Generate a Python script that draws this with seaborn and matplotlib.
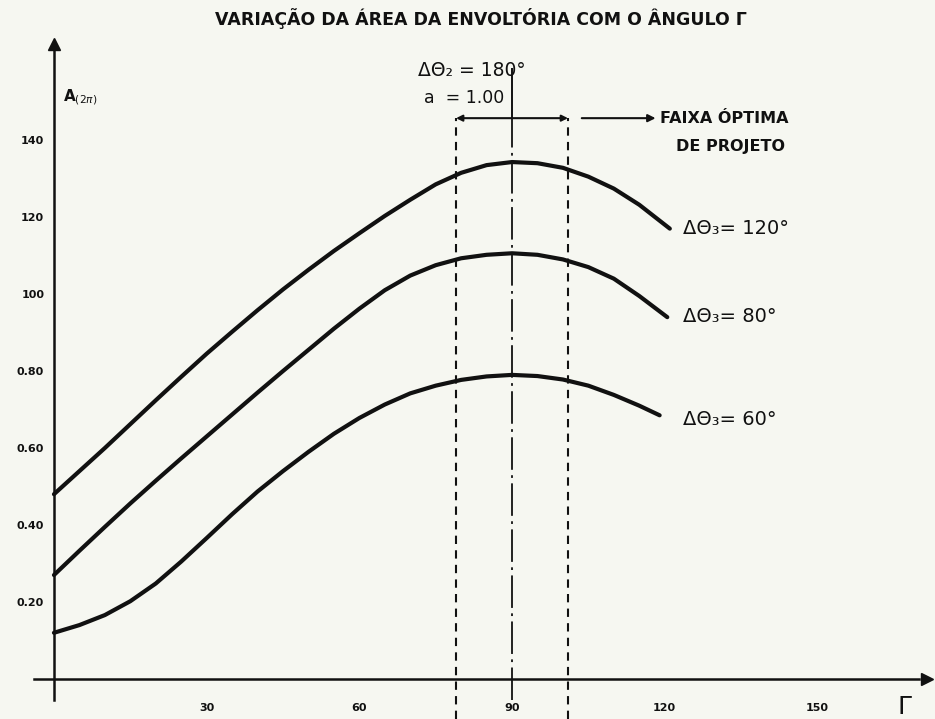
import pandas as pd
import matplotlib.pyplot as plt
import seaborn as sns

# Valores (Gamma em graus, area adimensional)
gamma_120 = [0, 5, 10, 15, 20, 25, 30, 35, 40, 45, 50, 55, 60, 65, 70, 75, 80, 85, 90,
             95, 100, 105, 110, 115, 121]
area_120 = [0.48, 0.54, 0.60, 0.662, 0.724, 0.785, 0.845, 0.902, 0.958, 1.012, 1.063,
            1.112, 1.158, 1.203, 1.245, 1.285, 1.315, 1.335, 1.343, 1.340, 1.328, 1.305,
            1.274, 1.232, 1.17]

gamma_80 = [0, 5, 10, 15, 20, 25, 30, 35, 40, 45, 50, 55, 60, 65, 70, 75, 80, 85, 90,
            95, 100, 105, 110, 115, 120.5]
area_80 = [0.27, 0.333, 0.395, 0.456, 0.515, 0.573, 0.63, 0.687, 0.744, 0.80, 0.855,
           0.91, 0.962, 1.01, 1.048, 1.075, 1.093, 1.102, 1.106, 1.102, 1.09, 1.07,
           1.04, 0.995, 0.94]

gamma_60 = [0, 5, 10, 15, 20, 25, 30, 35, 40, 45, 50, 55, 60, 65, 70, 75, 80, 85, 90,
            95, 100, 105, 110, 115, 119]
area_60 = [0.12, 0.14, 0.166, 0.202, 0.248, 0.305, 0.366, 0.428, 0.487, 0.540, 0.590,
           0.637, 0.678, 0.713, 0.742, 0.762, 0.777, 0.786, 0.79, 0.787, 0.778, 0.762,
           0.738, 0.71, 0.685]

curve_labels = ["ΔΘ₃= 120°", "ΔΘ₃= 80°", "ΔΘ₃= 60°"]

x_ticks = [30, 60, 90, 120, 150]
y_ticks = [0.2, 0.4, 0.6, 0.8, 1.0, 1.2, 1.4]
y_tick_labels = ["0.20", "0.40", "0.60", "0.80", "100", "120", "140"]

gamma_optimo = 90
faixa_optima = [79, 101]

bg = "#f6f7f1"
ink = "#111111"

sns.set_theme(style="white")
plt.rcParams["font.family"] = ["DejaVu Sans"]

frames = []
for lab, g, a in zip(curve_labels, [gamma_120, gamma_80, gamma_60], [area_120, area_80, area_60]):
    frames.append(pd.DataFrame({"gamma": g, "area": a, "curva": lab}))
df = pd.concat(frames, ignore_index=True)

fig = plt.figure(figsize=(9.35, 7.19), dpi=100, facecolor=bg)
ax = fig.add_axes([0, 0, 1, 1], facecolor=bg)

sns.lineplot(data=df, x="gamma", y="area", hue="curva", palette=[ink] * 3,
             linewidth=3.0, legend=False, sort=False, ax=ax)

ax.set_xlim(-10.6, 173.1)
ax.set_ylim(-0.104, 1.764)

# eixos com setas
for side in ["top", "right"]:
    ax.spines[side].set_visible(False)
ax.spines["left"].set_position(("data", 0))
ax.spines["bottom"].set_position(("data", 0))
ax.spines["left"].set_bounds(-0.055, 1.64)
ax.spines["bottom"].set_bounds(-4, 170)
for side in ["left", "bottom"]:
    ax.spines[side].set_color(ink)
    ax.spines[side].set_linewidth(1.8)
ax.plot(0, 1.65, marker="^", color=ink, markersize=8, clip_on=False)
ax.plot(171.5, 0, marker=">", color=ink, markersize=8, clip_on=False)

ax.set_xticks(x_ticks)
ax.set_xticklabels([str(t) for t in x_ticks], fontsize=8, fontweight="heavy")
ax.set_yticks(y_ticks)
ax.set_yticklabels(y_tick_labels, fontsize=8, fontweight="heavy")
ax.tick_params(axis="x", direction="out", length=5, width=1.4, pad=12, colors=ink)
ax.tick_params(axis="y", direction="out", length=5, width=1.4, pad=2, colors=ink)
ax.set_xlabel("")
ax.set_ylabel("")
ax.grid(False)

# linha de centro e faixa optima
ax.vlines(gamma_optimo, 1.457, 1.587, color=ink, linewidth=1.4)
ax.vlines(gamma_optimo, -0.055, 1.457, color=ink, linewidth=1.3,
          linestyles=(0, (18, 3, 1.5, 3)))
ax.vlines(faixa_optima, -0.104, 1.457, color=ink, linewidth=1.5,
          linestyles=(0, (4, 3)))
ax.annotate("", xy=(faixa_optima[1], 1.457), xytext=(faixa_optima[0], 1.457),
            arrowprops=dict(arrowstyle="<|-|>", color=ink, lw=1.5,
                            mutation_scale=9, shrinkA=0, shrinkB=0))
ax.annotate("", xy=(118.2, 1.457), xytext=(103.7, 1.457),
            arrowprops=dict(arrowstyle="-|>", color=ink, lw=1.5,
                            mutation_scale=11, shrinkA=0, shrinkB=0))

txt = dict(color=ink, fontweight="bold")
ax.text(83.9, 1.717, "VARIAÇÃO DA ÁREA DA ENVOLTÓRIA COM O ÂNGULO Γ",
        ha="center", va="center", fontsize=12.5, **txt)
ax.text(1.8, 1.512, "A$_{(2π)}$", ha="left", va="center", fontsize=11, **txt)
ax.text(71.5, 1.582, "ΔΘ₂ = 180°", ha="left", va="center", fontsize=13.5, color=ink)
ax.text(72.7, 1.509, "a  = 1.00", ha="left", va="center", fontsize=12.5, color=ink)
ax.text(119.1, 1.455, "FAIXA ÓPTIMA", ha="left", va="center", fontsize=11.5, **txt)
ax.text(122.2, 1.384, "DE PROJETO", ha="left", va="center", fontsize=11.5, **txt)

label_y = [1.171, 0.943, 0.673]
for lab, yy in zip(curve_labels, label_y):
    ax.text(123.6, yy, lab, ha="left", va="center", fontsize=14, color=ink)

ax.text(167.2, -0.072, "Γ", ha="center", va="center", fontsize=18, color=ink)

fig.savefig("out.png", dpi=100, facecolor=bg)
plt.close(fig)
